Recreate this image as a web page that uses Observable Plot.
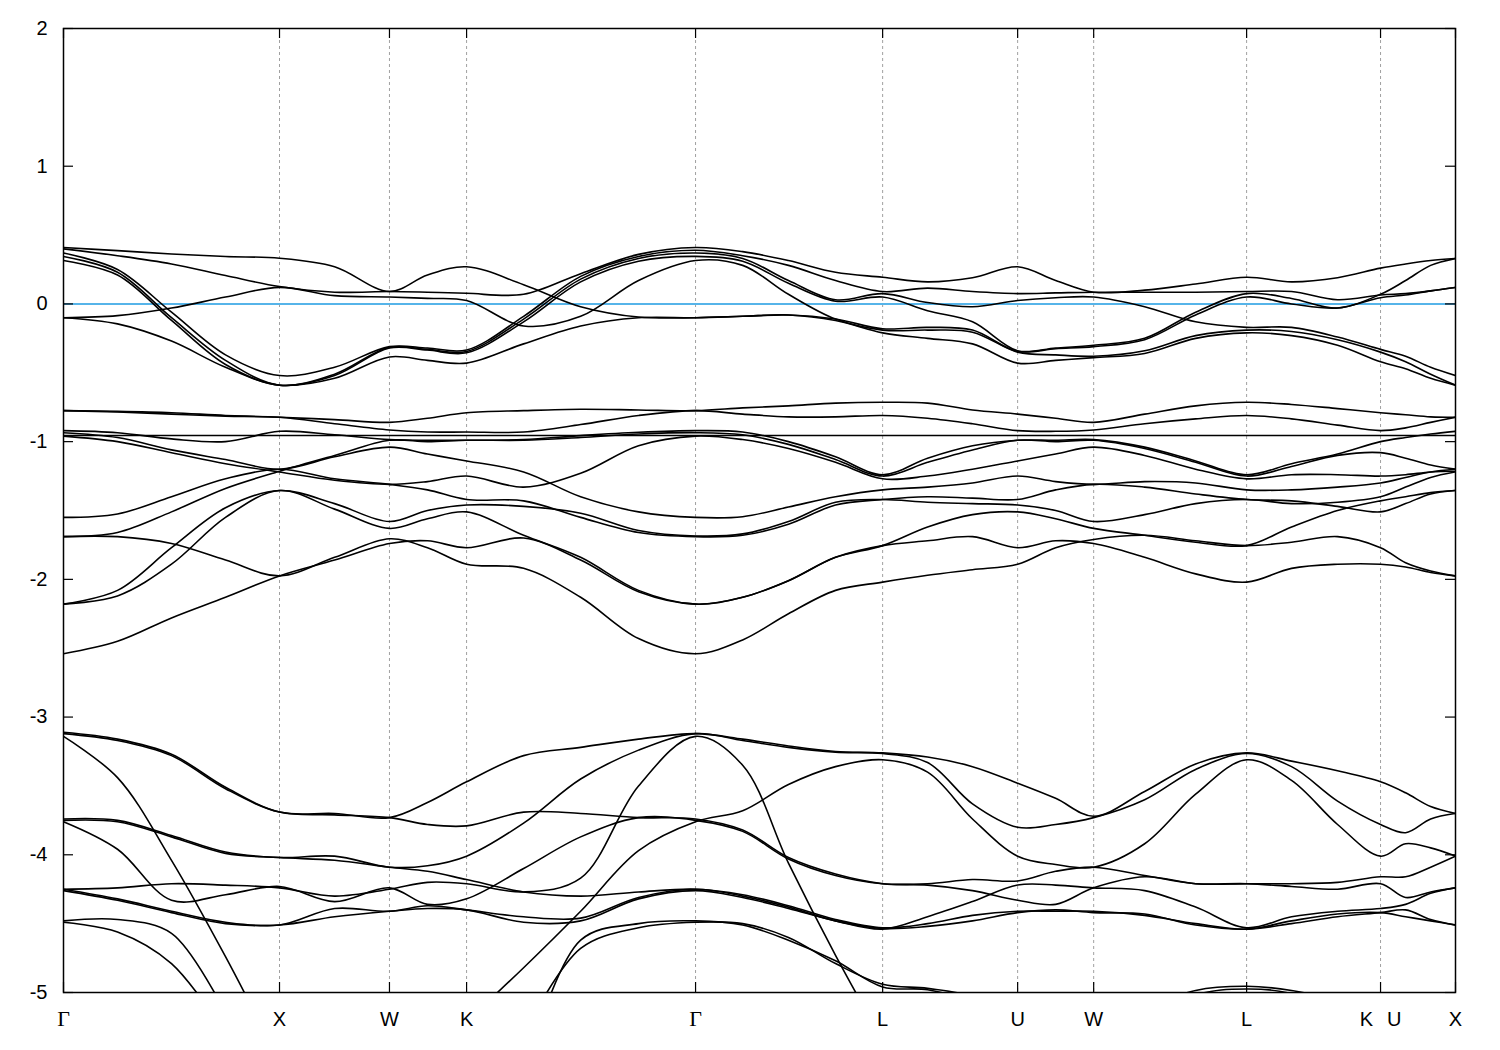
<!DOCTYPE html>
<html><head><meta charset="utf-8">
<script src="https://cdn.jsdelivr.net/npm/d3@7"></script>
<script src="https://cdn.jsdelivr.net/npm/@observablehq/plot@0.6"></script>
<style>
html,body{margin:0;padding:0;background:#fff;}
#chart svg{display:block;}
</style>
</head><body><div id="chart"></div>
<script>
// k-path sample positions (path length units)
const kGrid = [0, 0.25, 0.5, 0.75, 1.0, 1.255, 1.509, 1.685, 1.866, 2.130, 2.394, 2.662, 2.926, 3.144, 3.356, 3.574, 3.792, 4.0, 4.208, 4.417, 4.593, 4.769, 5.005, 5.241, 5.477, 5.685, 5.898, 6.097, 6.213, 6.329, 6.444];
const xTickK = [0, 1.0, 1.509, 1.866, 2.926, 3.792, 4.417, 4.769, 5.477, 6.097, 6.444];
const xTickLabels = ["Γ", "X", "W", "K", "Γ", "L", "U", "W", "L", "K\u2002\u2009U", "X"];
const yTicks = [-5, -4, -3, -2, -1, 0, 1, 2];
const fermiLevel = [0];

// bands near the Fermi level
const bandA1 = [0.41, 0.387, 0.363, 0.344, 0.332, 0.27, 0.09, 0.21, 0.27, 0.14, -0.02, -0.095, -0.10, -0.09, -0.08, -0.11, -0.18, -0.17, -0.19, -0.345, -0.325, -0.31, -0.26, -0.08, 0.05, 0.0, -0.03, 0.045, 0.065, 0.095, 0.12];
const bandA2 = [0.40, 0.35, 0.29, 0.206, 0.126, 0.085, 0.09, 0.085, 0.077, 0.07, 0.22, 0.36, 0.41, 0.38, 0.315, 0.23, 0.194, 0.16, 0.19, 0.27, 0.17, 0.085, 0.10, 0.145, 0.194, 0.16, 0.19, 0.26, 0.29, 0.315, 0.33];
const bandA3 = [-0.10, -0.085, -0.03, 0.05, 0.12, 0.06, 0.05, 0.04, 0.025, -0.16, -0.09, 0.17, 0.315, 0.28, 0.07, -0.11, -0.19, -0.19, -0.205, -0.35, -0.37, -0.38, -0.34, -0.23, -0.19, -0.20, -0.26, -0.35, -0.42, -0.51, -0.59];
const bandA4 = [0.37, 0.25, -0.06, -0.37, -0.52, -0.46, -0.31, -0.32, -0.335, -0.09, 0.20, 0.345, 0.39, 0.35, 0.28, 0.17, 0.09, 0.115, 0.09, 0.075, 0.08, 0.085, 0.085, 0.085, 0.09, 0.09, 0.03, 0.065, 0.075, 0.095, 0.12];
const bandA5 = [0.345, 0.23, -0.10, -0.41, -0.59, -0.51, -0.315, -0.33, -0.345, -0.11, 0.18, 0.33, 0.37, 0.33, 0.17, 0.03, 0.075, 0.01, -0.02, 0.025, 0.045, 0.05, -0.02, -0.13, -0.17, -0.17, -0.24, -0.33, -0.38, -0.46, -0.52];
const bandA6 = [0.315, 0.21, -0.12, -0.44, -0.59, -0.52, -0.32, -0.335, -0.355, -0.13, 0.16, 0.31, 0.345, 0.31, 0.15, 0.02, 0.05, -0.05, -0.13, -0.34, -0.32, -0.30, -0.25, -0.06, 0.075, 0.04, -0.03, 0.07, 0.17, 0.28, 0.33];
const bandA7 = [-0.10, -0.145, -0.27, -0.46, -0.59, -0.54, -0.385, -0.41, -0.43, -0.29, -0.16, -0.10, -0.10, -0.09, -0.08, -0.12, -0.21, -0.25, -0.29, -0.43, -0.41, -0.39, -0.36, -0.25, -0.21, -0.23, -0.30, -0.42, -0.47, -0.54, -0.59];

// bands between -0.7 and -2.6
const bandB1 = [-0.775, -0.78, -0.79, -0.81, -0.823, -0.84, -0.86, -0.83, -0.79, -0.775, -0.765, -0.77, -0.775, -0.755, -0.74, -0.72, -0.714, -0.72, -0.77, -0.80, -0.83, -0.86, -0.80, -0.74, -0.714, -0.73, -0.76, -0.79, -0.805, -0.82, -0.823];
const bandB2 = [-0.775, -0.785, -0.80, -0.815, -0.823, -0.87, -0.915, -0.93, -0.93, -0.93, -0.876, -0.81, -0.775, -0.80, -0.82, -0.82, -0.81, -0.83, -0.87, -0.92, -0.925, -0.915, -0.87, -0.835, -0.81, -0.835, -0.88, -0.92, -0.90, -0.86, -0.823];
const bandB3 = [-0.92, -0.935, -0.98, -1.0, -0.925, -0.95, -0.985, -0.99, -0.99, -0.985, -0.956, -0.932, -0.92, -0.93, -1.00, -1.11, -1.24, -1.12, -1.03, -0.99, -0.99, -0.985, -1.04, -1.14, -1.24, -1.16, -1.09, -1.00, -0.97, -0.945, -0.925];
const bandB4 = [-1.69, -1.66, -1.51, -1.34, -1.215, -1.10, -0.99, -1.0, -0.99, -0.99, -0.97, -0.945, -0.935, -0.95, -1.02, -1.13, -1.25, -1.15, -1.06, -0.99, -1.0, -0.99, -1.05, -1.15, -1.25, -1.18, -1.10, -1.08, -1.12, -1.17, -1.20];
const bandB5 = [-0.935, -0.97, -1.06, -1.13, -1.20, -1.11, -1.04, -1.09, -1.14, -1.22, -1.40, -1.51, -1.55, -1.545, -1.475, -1.40, -1.35, -1.33, -1.30, -1.25, -1.29, -1.31, -1.29, -1.30, -1.35, -1.35, -1.33, -1.30, -1.26, -1.22, -1.20];
const bandB6 = [-0.96, -1.0, -1.08, -1.16, -1.22, -1.28, -1.31, -1.29, -1.25, -1.33, -1.23, -1.03, -0.96, -0.985, -1.05, -1.15, -1.27, -1.25, -1.20, -1.14, -1.09, -1.04, -1.10, -1.20, -1.27, -1.24, -1.24, -1.25, -1.24, -1.22, -1.215];
const bandB7 = [-1.55, -1.525, -1.40, -1.27, -1.20, -1.27, -1.31, -1.35, -1.42, -1.43, -1.55, -1.66, -1.69, -1.68, -1.60, -1.46, -1.42, -1.40, -1.41, -1.42, -1.35, -1.31, -1.33, -1.38, -1.42, -1.43, -1.47, -1.51, -1.45, -1.38, -1.355];
const bandB8 = [-2.18, -2.08, -1.77, -1.48, -1.355, -1.45, -1.58, -1.50, -1.46, -1.47, -1.52, -1.645, -1.685, -1.67, -1.58, -1.44, -1.42, -1.44, -1.45, -1.46, -1.50, -1.58, -1.53, -1.45, -1.42, -1.45, -1.44, -1.40, -1.33, -1.26, -1.22];
const bandB9 = [-2.18, -2.12, -1.89, -1.55, -1.355, -1.49, -1.63, -1.56, -1.51, -1.68, -1.84, -2.08, -2.18, -2.13, -2.01, -1.84, -1.755, -1.62, -1.53, -1.51, -1.56, -1.63, -1.68, -1.73, -1.755, -1.62, -1.50, -1.43, -1.40, -1.37, -1.355];
const bandB10 = [-1.69, -1.69, -1.74, -1.86, -1.975, -1.84, -1.705, -1.77, -1.89, -1.92, -2.13, -2.43, -2.54, -2.44, -2.25, -2.08, -2.02, -1.97, -1.93, -1.89, -1.77, -1.71, -1.68, -1.72, -1.755, -1.73, -1.69, -1.77, -1.88, -1.94, -1.975];
const bandB11 = [-2.54, -2.45, -2.28, -2.13, -1.975, -1.86, -1.74, -1.72, -1.77, -1.70, -1.86, -2.09, -2.18, -2.13, -2.01, -1.84, -1.755, -1.72, -1.69, -1.77, -1.72, -1.74, -1.84, -1.96, -2.02, -1.92, -1.89, -1.89, -1.91, -1.95, -1.975];
const flatBandK = [0, 6.444];
const flatBandE = [-0.955, -0.955];

// bands between -3.1 and -5
const bandC1 = [-3.11, -3.16, -3.27, -3.51, -3.69, -3.70, -3.73, -3.62, -3.47, -3.28, -3.22, -3.16, -3.12, -3.16, -3.21, -3.25, -3.26, -3.29, -3.36, -3.48, -3.59, -3.72, -3.54, -3.34, -3.26, -3.32, -3.39, -3.47, -3.55, -3.65, -3.70];
const bandC2 = [-3.12, -3.17, -3.28, -3.52, -3.69, -3.71, -3.73, -3.78, -3.79, -3.69, -3.70, -3.73, -3.74, -3.82, -4.02, -4.14, -4.21, -4.22, -4.26, -4.33, -4.36, -4.24, -4.16, -4.21, -4.21, -4.23, -4.25, -4.21, -4.31, -4.27, -4.24];
const bandC3 = [-3.74, -3.75, -3.86, -3.98, -4.02, -4.01, -4.09, -4.08, -4.01, -3.77, -3.45, -3.24, -3.12, -3.17, -3.22, -3.255, -3.265, -3.33, -3.63, -3.80, -3.78, -3.73, -3.60, -3.38, -3.265, -3.36, -3.61, -3.78, -3.84, -3.74, -3.70];
const bandC4 = [-3.75, -3.76, -3.87, -3.99, -4.02, -4.04, -4.09, -4.12, -4.18, -4.27, -4.30, -4.27, -4.25, -4.29, -4.37, -4.47, -4.53, -4.50, -4.44, -4.41, -4.41, -4.41, -4.44, -4.50, -4.54, -4.48, -4.43, -4.42, -4.45, -4.48, -4.51];
const bandC5 = [-3.76, -3.96, -4.33, -4.29, -4.23, -4.34, -4.24, -4.36, -4.32, -4.10, -3.87, -3.73, -3.75, -3.83, -4.03, -4.15, -4.21, -4.21, -4.18, -4.19, -4.12, -4.09, -4.15, -4.21, -4.21, -4.21, -4.20, -4.16, -4.16, -4.09, -4.01];
const bandC6 = [-4.25, -4.24, -4.21, -4.22, -4.24, -4.30, -4.25, -4.20, -4.21, -4.27, -4.17, -3.50, -3.14, -3.35, -4.06, -4.73, -5.35, null, null, null, null, null, null, null, null, null, null, null, null, null, null];
const bandC7 = [-4.25, -4.32, -4.41, -4.49, -4.51, -4.39, -4.41, -4.37, -4.40, -4.45, -4.46, -4.31, -4.25, -4.30, -4.38, -4.48, -4.535, -4.52, -4.48, -4.42, -4.40, -4.42, -4.43, -4.51, -4.54, -4.50, -4.45, -4.42, -4.40, -4.47, -4.51];
const bandC8 = [-4.26, -4.33, -4.42, -4.50, -4.51, -4.45, -4.41, -4.39, -4.40, -4.49, -4.48, -4.32, -4.26, -4.31, -4.39, -4.48, -4.54, -4.45, -4.34, -4.22, -4.22, -4.24, -4.26, -4.38, -4.53, -4.45, -4.41, -4.39, -4.36, -4.28, -4.24];
const bandC9 = [-3.14, -3.44, -4.04, -4.74, -5.5, null, null, null, null, null, null, null, null, null, null, null, null, null, null, null, null, null, null, null, null, null, null, null, null, null, null];
const bandC10 = [-4.48, -4.47, -4.57, -5.15, null, null, null, null, null, null, null, null, null, null, null, null, null, null, null, null, null, null, null, null, null, null, null, null, null, null, null];
const bandC11 = [-4.49, -4.56, -4.79, -5.3, null, null, null, null, null, null, null, null, null, null, null, null, null, null, null, null, null, null, null, null, null, null, null, null, null, null, null];
const bandC12 = [null, null, null, null, null, null, null, null, -5.21, -4.82, -4.41, -3.97, -3.76, -3.68, -3.49, -3.36, -3.31, -3.40, -3.74, -4.01, -4.07, -4.09, -3.92, -3.56, -3.31, -3.46, -3.78, -4.01, -3.92, -3.95, -4.01];
const bandC13 = [null, null, null, null, null, null, null, null, null, -5.3, -4.68, -4.53, -4.49, -4.50, -4.60, -4.79, -4.94, -4.97, -5.03, -5.2, null, null, -5.12, -4.985, -4.955, -4.985, -5.06, null, null, null, null];
const bandC14 = [null, null, null, null, null, null, null, null, null, -5.6, -4.62, -4.50, -4.48, -4.51, -4.62, -4.77, -4.96, -4.98, -5.07, -5.25, null, null, -5.25, -5.02, -4.975, -5.01, -5.18, null, null, null, null];

const bandSeries = [bandA1, bandA2, bandA3, bandA4, bandA5, bandA6, bandA7,
  bandB1, bandB2, bandB3, bandB4, bandB5, bandB6, bandB7, bandB8, bandB9, bandB10, bandB11,
  bandC1, bandC2, bandC3, bandC4, bandC5, bandC6, bandC7, bandC8, bandC9, bandC10, bandC11, bandC12, bandC13, bandC14];

const rows = bandSeries.flatMap((vals, b) => vals.map((e, i) => ({band: "b" + b, k: kGrid[i], e})));
flatBandK.forEach((k, i) => rows.push({band: "flat", k, e: flatBandE[i]}));

const xLabelRows = xTickK.map((k, i) => ({k, label: xTickLabels[i]}));
const innerTicks = xTickK.slice(1, -1);

const W = 1500, H = 1050, ML = 63, MR = 45, MT = 28, MB = 58;
const plotW = W - ML - MR, plotH = H - MT - MB;
const sans = "'Liberation Sans', Arial, Helvetica, sans-serif";
const serif = "'Liberation Serif', 'DejaVu Serif', 'Times New Roman', serif";

const chart = Plot.plot({
  width: W, height: H,
  marginLeft: ML, marginRight: MR, marginTop: MT, marginBottom: MB,
  style: {fontSize: "20px", fontFamily: sans, background: "white", color: "black"},
  x: {domain: [0, xTickK[xTickK.length - 1]], axis: null},
  y: {domain: [-5, 2], axis: null},
  marks: [
    Plot.ruleX(innerTicks, {x: d => d, stroke: "#a0a0a0", strokeWidth: 1, strokeDasharray: "3,3"}),
    Plot.ruleY(fermiLevel, {y: d => d, stroke: "#56b4e9", strokeWidth: 2}),
    Plot.line(rows, {x: "k", y: "e", z: "band", curve: "catmull-rom", stroke: "black", strokeWidth: 1.6, clip: true}),
    Plot.frame({stroke: "black", strokeWidth: 1.5}),
    Plot.tickY(yTicks, {y: d => d, stroke: "black", strokeWidth: 1.2, insetRight: plotW - 10}),
    Plot.tickY(yTicks, {y: d => d, stroke: "black", strokeWidth: 1.2, insetLeft: plotW - 10}),
    Plot.tickX(xTickK, {x: d => d, stroke: "black", strokeWidth: 1.2, insetTop: plotH - 10}),
    Plot.tickX(xTickK, {x: d => d, stroke: "black", strokeWidth: 1.2, insetBottom: plotH - 10}),
    Plot.axisY({ticks: yTicks, tickSize: 0, tickPadding: 16, tickFormat: d => String(d), label: null, fontSize: 20}),
    Plot.text(xLabelRows.filter(d => d.label === "Γ"), {x: "k", text: "label", frameAnchor: "bottom", dy: 33, fontSize: 22, fontFamily: serif, fill: "black"}),
    Plot.text(xLabelRows.filter(d => d.label !== "Γ"), {x: "k", text: "label", frameAnchor: "bottom", dy: 33, fontSize: 20, fontFamily: sans, fill: "black"})
  ]
});
document.getElementById("chart").appendChild(chart);
</script>
</body></html>
